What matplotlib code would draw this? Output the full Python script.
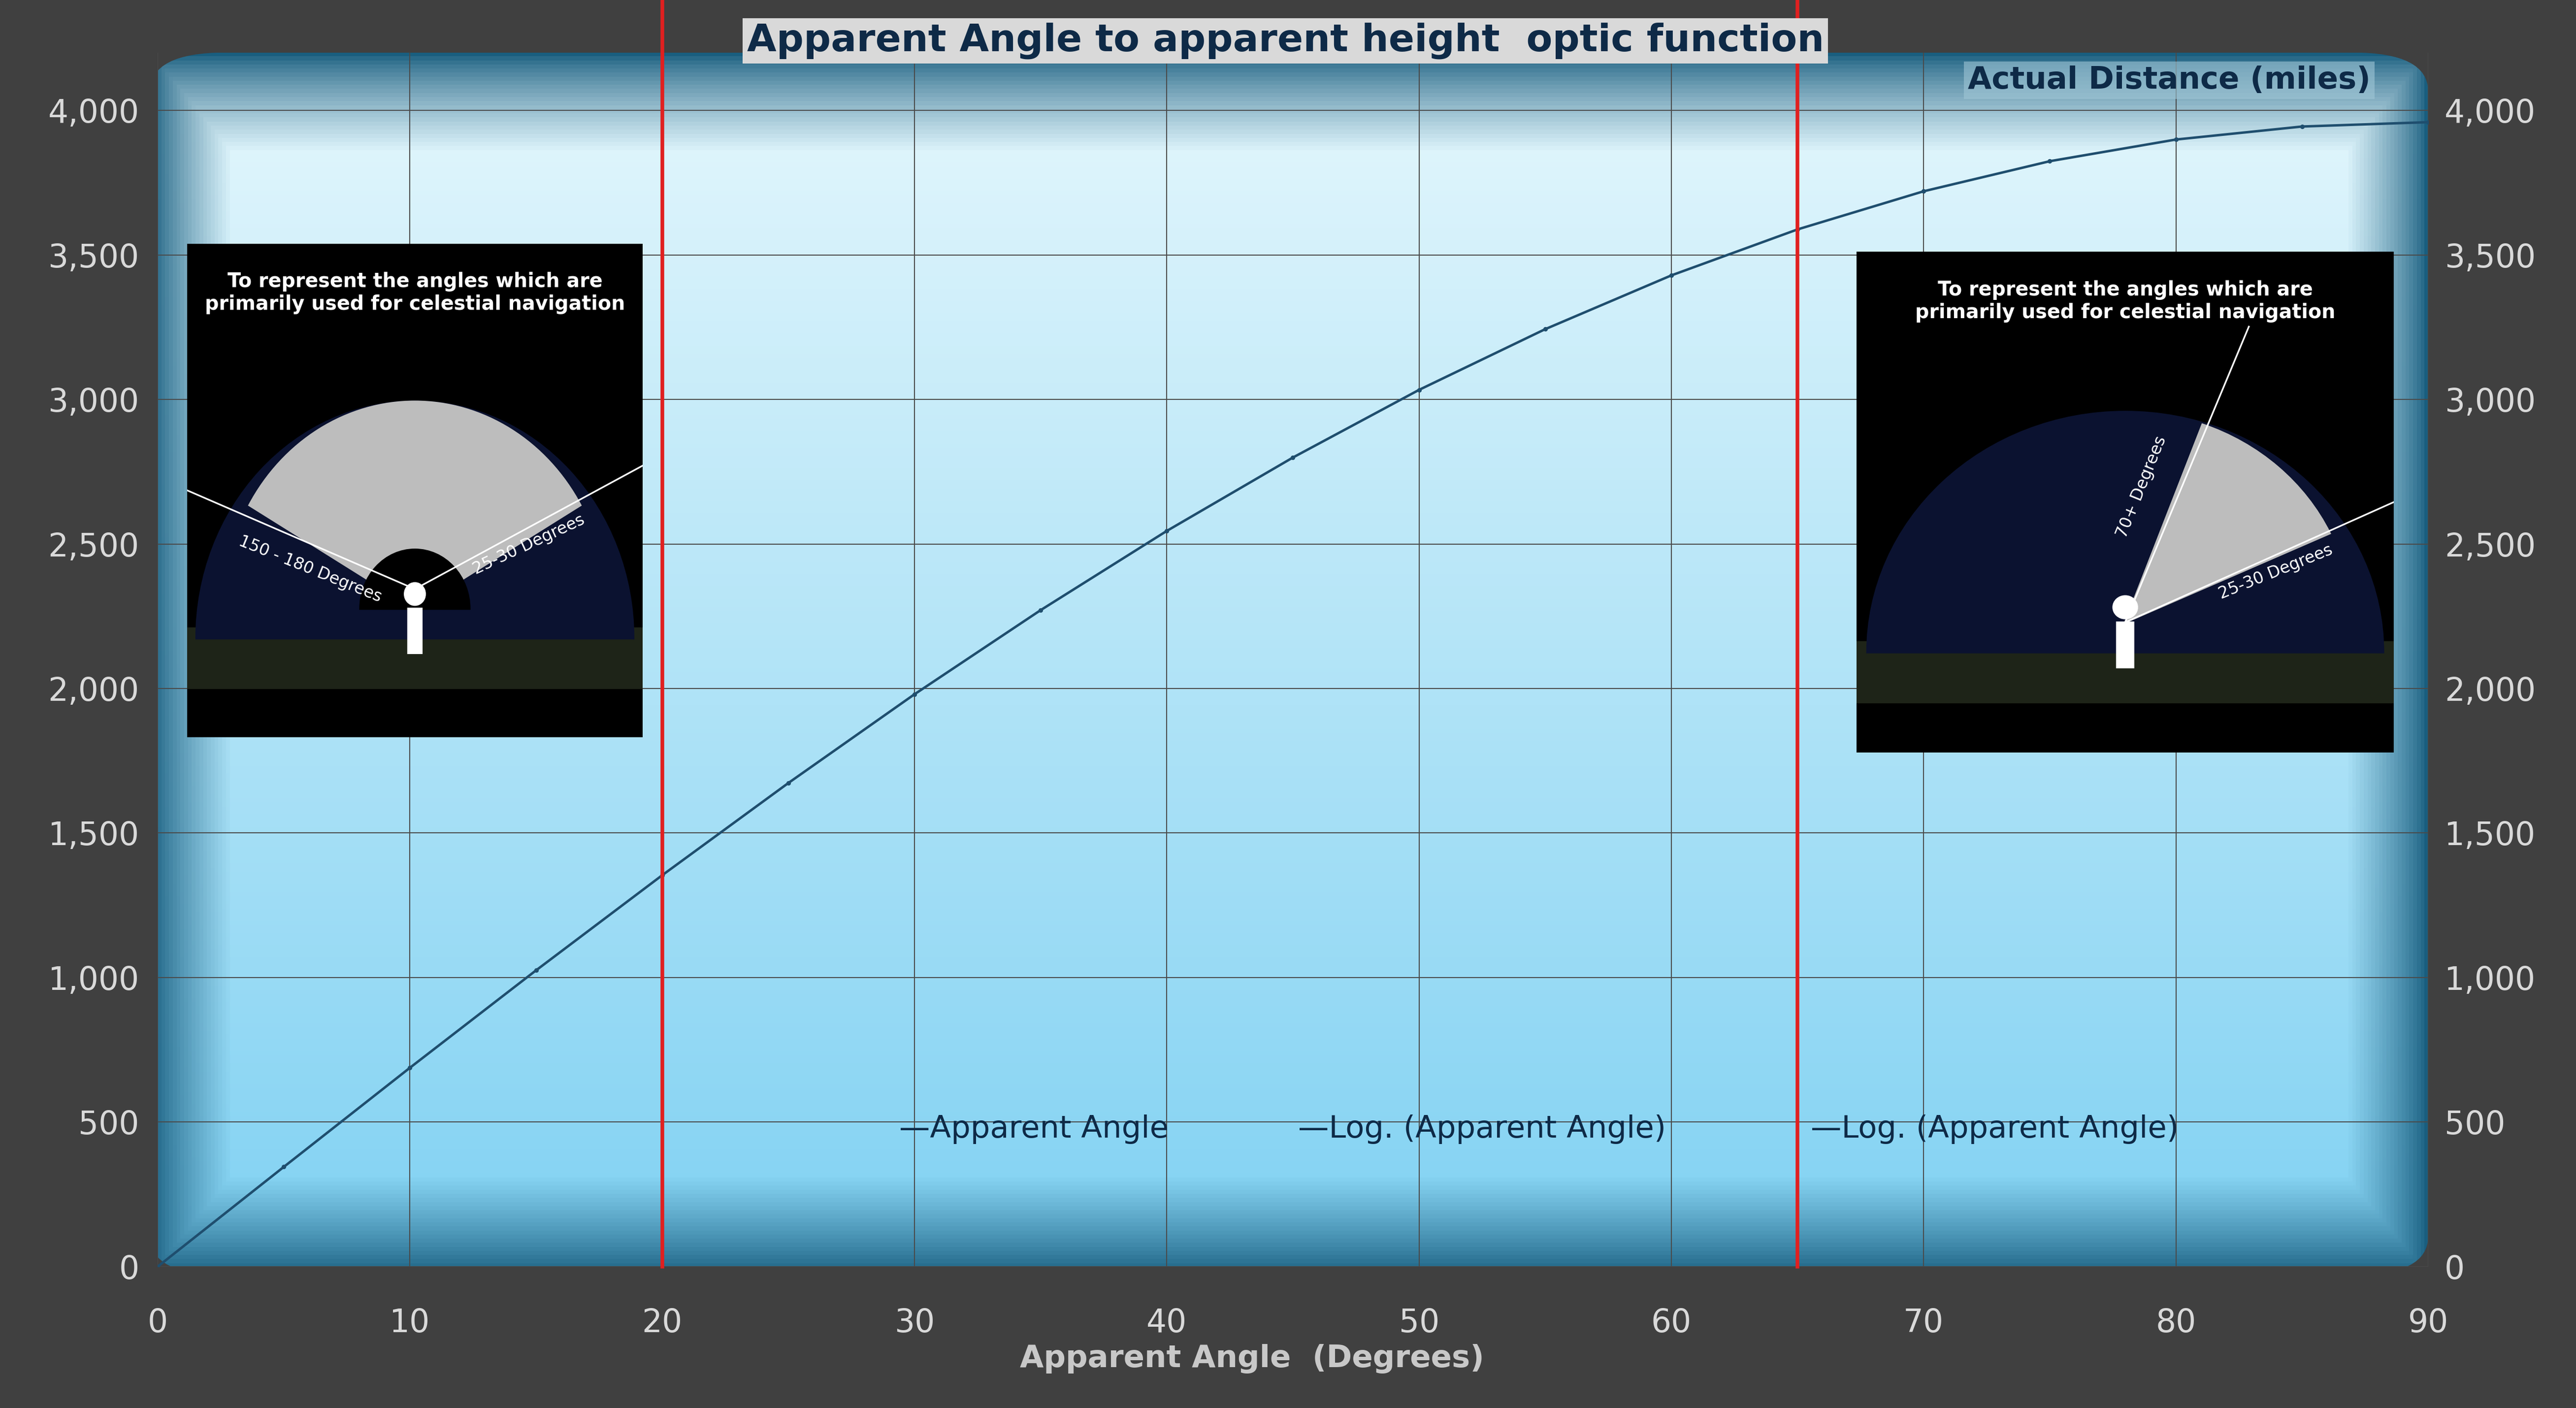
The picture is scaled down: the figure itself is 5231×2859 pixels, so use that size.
import matplotlib.pyplot as plt
import numpy as np
from matplotlib.patches import FancyBboxPatch, Rectangle, Wedge

# values (every 5 degrees)
angles = [0, 5, 10, 15, 20, 25, 30, 35, 40, 45, 50, 55, 60, 65, 70, 75, 80, 85, 90]
distance = [0, 345, 688, 1025, 1354, 1673, 1980, 2271, 2545, 2799, 3033, 3243,
            3429, 3588, 3720, 3824, 3899, 3944, 3959]
markers_at = [20, 65]
yticks = [0, 500, 1000, 1500, 2000, 2500, 3000, 3500, 4000]
xticks = [0, 10, 20, 30, 40, 50, 60, 70, 80, 90]
legend_names = ["Apparent Angle", "Log. (Apparent Angle)", "Log. (Apparent Angle)"]

bg = "#404040"
navy = "#0e2a47"
fig = plt.figure(figsize=(17.437, 9.53), dpi=300, facecolor=bg)
ax = fig.add_axes([0.0612, 0.1004, 0.8814, 0.8623], facecolor=bg)
ax.set_xlim(0, 90)
ax.set_ylim(0, 4200)

# rounded gradient panel with dark vignette edges
ny, nx = 300, 600
yy, xx = np.mgrid[0:1:ny * 1j, 0:1:nx * 1j]
top = np.array([0.90, 0.97, 0.99])
bot = np.array([0.50, 0.82, 0.95])
base = top[None, None, :] * (1 - yy[..., None]) + bot[None, None, :] * yy[..., None]
edge = np.array([0.10, 0.37, 0.50])
dx = np.minimum(xx, 1 - xx) / 0.035
dy = np.minimum(yy, 1 - yy) / 0.08
w = np.clip(np.minimum(dx, dy), 0, 1) ** 0.8
img = base * w[..., None] + edge * (1 - w[..., None])
im = ax.imshow(img, extent=(-0.3, 90, -30, 4200), aspect="auto", zorder=0)
clip = FancyBboxPatch((-0.3, -30), 90.3, 4230, boxstyle="round,pad=0,rounding_size=3",
                      mutation_aspect=45, transform=ax.transData, facecolor="none", edgecolor="none")
ax.add_patch(clip)
im.set_clip_path(clip)

ax.grid(True, color="#4a4a4a", lw=0.5, zorder=1)
ax.set_axisbelow(True)
ax.set_xticks(xticks)
ax.set_yticks(yticks)
ax.yaxis.set_major_formatter(plt.FuncFormatter(lambda v, p: f"{int(v):,}"))
ax.tick_params(colors="#d9d9d9", labelsize=15.5, length=0, pad=9)
ax.tick_params(axis="x", pad=20)
for s in ax.spines.values():
    s.set_visible(False)
ax2 = ax.twinx()
ax2.set_ylim(0, 4200)
ax2.set_yticks(yticks)
ax2.yaxis.set_major_formatter(plt.FuncFormatter(lambda v, p: f"{int(v):,}"))
ax2.tick_params(colors="#d9d9d9", labelsize=15.5, length=0, pad=8)
for s in ax2.spines.values():
    s.set_visible(False)

ax.plot(angles, distance, color="#1f4e6e", lw=1.2, marker="o", ms=1.2, zorder=3)

for m in markers_at:
    ax.axvline(m, ymin=0, ymax=1.045, color="#e02020", lw=1.8, clip_on=False, zorder=5)

fig.text(0.486, 0.035, "Apparent Angle  (Degrees)", color="#c8c8c8", fontsize=15, fontweight="bold",
         ha="center", va="center")

fig.text(0.499, 0.971, "Apparent Angle to apparent height  optic function", ha="center", va="center",
         fontsize=18.5, fontweight="bold", color=navy,
         bbox=dict(facecolor="#d9d9d9", edgecolor="none", pad=2))
fig.text(0.842, 0.943, "Actual Distance (miles)", ha="center", va="center", fontsize=15,
         fontweight="bold", color=navy,
         bbox=dict(facecolor="#9fc6d6", edgecolor="none", pad=2, alpha=0.6))

for xp, name in zip([0.349, 0.504, 0.703], legend_names):
    fig.text(xp, 0.198, "\u2014" + name, fontsize=15, color=navy, va="center")

# inset pictures (simplified)
def inset(rect, right_style):
    a = fig.add_axes(rect)
    a.set_xlim(0, 1); a.set_ylim(0, 1); a.axis("off")
    a.add_patch(Rectangle((0, 0), 1, 1, color="black"))
    a.add_patch(Rectangle((0, 0.1), 1, 0.12, color="#1e2418"))
    a.add_patch(Wedge((0.5, 0.2), 0.48, 0, 180, color="#0b1230"))
    a.text(0.5, 0.9, "To represent the angles which are\nprimarily used for celestial navigation",
           ha="center", va="center", color="white", fontsize=9.5, fontweight="bold")
    if right_style:
        a.add_patch(Wedge((0.5, 0.26), 0.42, 25, 70, color="#bdbdbd"))
        a.plot([0.5, 1.0], [0.26, 0.5], color="white", lw=0.8)
        a.plot([0.5, 0.73], [0.26, 0.85], color="white", lw=0.8)
        a.text(0.53, 0.53, "70+ Degrees", rotation=68, color="white", fontsize=8, ha="center", va="center")
        a.text(0.78, 0.36, "25-30 Degrees", rotation=22, color="white", fontsize=8, ha="center", va="center")
    else:
        a.add_patch(Wedge((0.5, 0.26), 0.42, 30, 150, color="#bdbdbd"))
        a.add_patch(Wedge((0.5, 0.26), 0.12, 0, 180, color="black"))
        a.plot([0.0, 0.5, 1.0], [0.5, 0.3, 0.55], color="white", lw=0.8)
        a.text(0.27, 0.34, "150 - 180 Degrees", rotation=-22, color="white", fontsize=8, ha="center", va="center")
        a.text(0.75, 0.39, "25-30 Degrees", rotation=25, color="white", fontsize=8, ha="center", va="center")
    a.add_patch(Rectangle((0.485, 0.17), 0.03, 0.09, color="white"))
    a.add_patch(Wedge((0.5, 0.29), 0.022, 0, 360, color="white"))

inset([0.0727, 0.4765, 0.1767, 0.3504], False)
inset([0.7207, 0.4655, 0.2086, 0.3559], True)

fig.savefig("out.png", dpi=300, facecolor=bg)
